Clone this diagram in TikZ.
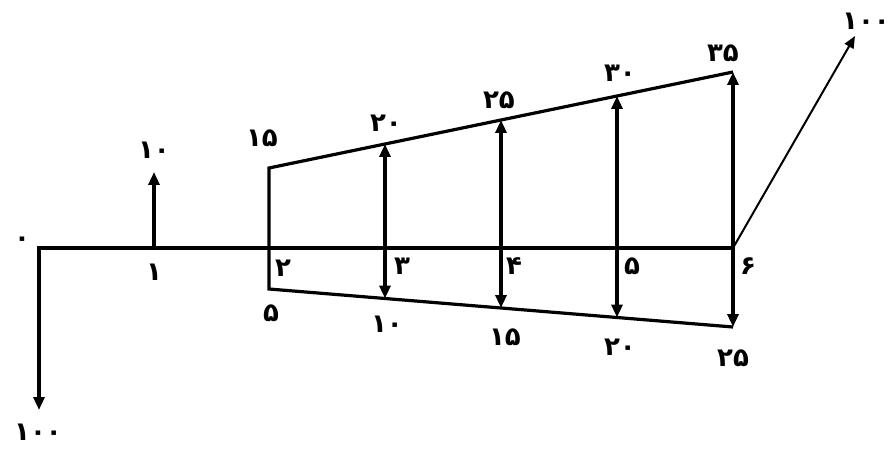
\documentclass[tikz,border=0pt]{standalone}
\usepackage{fontspec}
\newfontfamily\fa{DejaVu Sans}
\usetikzlibrary{arrows.meta,calc}
\begin{document}
\begin{tikzpicture}[x=1pt,y=-1pt,
  lbl/.style={font=\fa\bfseries\fontsize{26}{26}\selectfont, inner sep=0pt},
  thk/.style={line width=3.2pt, line join=miter},
  tip/.style={-{Triangle[length=13pt,width=11pt]}},
  dtip/.style={{Triangle[length=13pt,width=11pt]}-{Triangle[length=13pt,width=11pt]}}]
\useasboundingbox (0,0) rectangle (894,449);
% axis points
\coordinate (P0) at (39,248);
\coordinate (P1) at (154,248);
\coordinate (P2) at (269,248);
\coordinate (P6) at (733,248);
\coordinate (D0) at (39,410);
\coordinate (U1) at (154,172);
\coordinate (T2) at (269,168);
\coordinate (T6) at (733,72);
\coordinate (B2) at (269,289);
\coordinate (B6) at (733,327);
\coordinate (Q) at (855,36);
\foreach \i/\f in {3/0.25,4/0.5,5/0.75}{
  \coordinate (T\i) at ($(T2)!\f!(T6)$);
  \coordinate (B\i) at ($(B2)!\f!(B6)$);
}
% main lines
\draw[thk,tip] (P6) -- (P0) -- (D0);
\draw[thk,tip] (P1) -- (U1);
\draw[thk] (T6) -- (T2) -- (B2) -- (B6);
\foreach \i in {3,4,5,6}{
  \draw[thk,dtip] (B\i) -- (T\i);
}
\draw[line width=2pt,-{Triangle[length=12pt,width=10pt]}] (P6) -- (Q);
% labels
\node[lbl] (l0) at (22,242) {۰};
\node[lbl] (l1) at (154,272) {۱};
\node[lbl] (l2) at (283,268) {۲};
\node[lbl] (l3) at (402,266) {۳};
\node[lbl] (l4) at (514,266) {۴};
\node[lbl] (l5) at (632,266) {۵};
\node[lbl] (l6) at (748,266) {۶};
\node[lbl] (d100) at (38,432) {۱۰۰};
\node[lbl] (u10) at (154,150) {۱۰};
\node[lbl] (t15) at (262,138) {۱۵};
\node[lbl] (t20) at (386,123) {۲۰};
\node[lbl] (t25) at (499,100) {۲۵};
\node[lbl] (t30) at (620,73) {۳۰};
\node[lbl] (t35) at (723,53) {۳۵};
\node[lbl] (q100) at (866,21) {۱۰۰};
\node[lbl] (b5) at (271,313) {۵};
\node[lbl] (b10) at (387,324) {۱۰};
\node[lbl] (b15) at (505,337) {۱۵};
\node[lbl] (b20) at (620,347) {۲۰};
\node[lbl] (b25) at (733,358) {۲۵};
\end{tikzpicture}
\end{document}
